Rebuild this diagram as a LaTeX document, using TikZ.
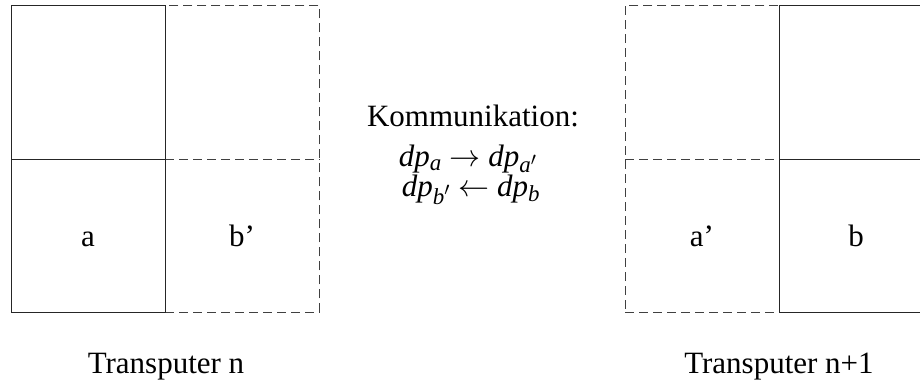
\documentclass[tikz,border=0pt]{standalone}
\usepackage{amsmath}
\usepackage{mathptmx}
\usepackage[no-math]{fontspec}
\setmainfont{Liberation Serif}
\newcommand{\dpx}[1]{\textit{dp}$_{\textit{#1}}$}
\newcommand{\dpp}[1]{\textit{dp}$_{\textit{#1}'}$}
\begin{document}
\begin{tikzpicture}[x=1pt,y=-1pt,line width=0.9pt,
  region/.style={draw,rectangle,inner sep=0pt,anchor=north west,minimum width=154pt,minimum height=307pt},
  dashedline/.style={draw=black!75,dash pattern=on 9pt off 5pt},
  solidline/.style={draw=black!85},
  lbl/.style={inner sep=0pt,anchor=base,font=\fontsize{31}{37}\selectfont}]
\useasboundingbox (0,0) rectangle (920,385);
% left transputer
\node[region,dashedline] (lr) at (165,5) {};
\node[region,solidline] (ll) at (11,5) {};
\draw[dashedline] (lr.west) -- (lr.east);
\draw[solidline] (ll.west) -- (ll.east);
% right transputer
\node[region,dashedline] (rl) at (625,5) {};
\node[region,solidline] (rr) at (779,5) {};
\draw[dashedline] (rl.west) -- (rl.east);
\draw[solidline] (rr.west) -- (rr.east);
% labels
\node[lbl] (la) at (88,246) {a};
\node[lbl] (lb) at (242,246) {b'};
\node[lbl] (ra) at (702,246) {a'};
\node[lbl] (rb) at (856,246) {b};
\node[lbl] (tn) at (166,373) {Transputer n};
\node[lbl] (tn1) at (779,373) {Transputer n+1};
\node[lbl] (k1) at (473,127) {Kommunikation:};
\node[lbl] (k2) at (468,166) {\dpx{a} $\rightarrow$ \dpp{a}};
\node[lbl] (k3) at (471,196) {\dpp{b} $\leftarrow$ \dpx{b}};
\end{tikzpicture}
\end{document}
